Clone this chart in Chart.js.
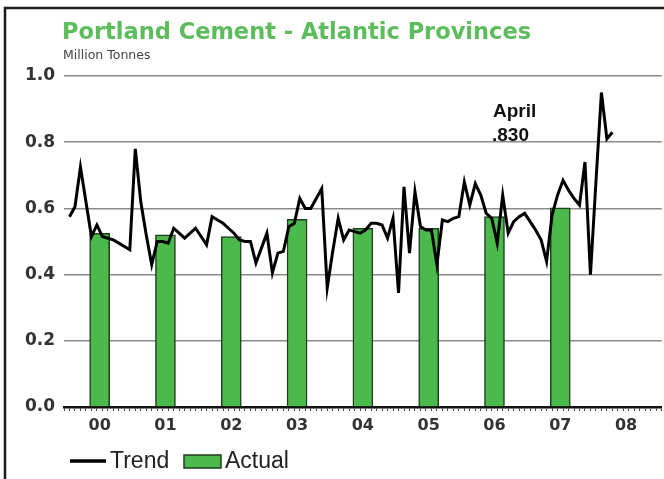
<!DOCTYPE html>
<html>
<head>
<meta charset="utf-8">
<script src="https://cdn.jsdelivr.net/npm/chart.js@4.4.1/dist/chart.umd.min.js"></script>
<style>
  html, body { margin: 0; padding: 0; background: #fff; }
  canvas { display: block; }
</style>
</head>
<body>
<canvas id="c" width="664" height="479"></canvas>
<script>
// ---- Data ----
const yearLabels = ['00', '01', '02', '03', '04', '05', '06', '07', '08'];

// Annual "Actual" bars, 2000-2007 (million tonnes)
const actualValues = [0.525, 0.52, 0.515, 0.567, 0.54, 0.54, 0.575, 0.602];

// Monthly "Trend" series, Jan 2000 - Apr 2008
const trend2000 = [0.575, 0.605, 0.725, 0.62, 0.515, 0.55, 0.515, 0.51, 0.505, 0.495, 0.485, 0.475];
const trend2001 = [0.78, 0.62, 0.52, 0.43, 0.50, 0.50, 0.495, 0.54, 0.525, 0.51, 0.525, 0.54];
const trend2002 = [0.515, 0.49, 0.575, 0.565, 0.555, 0.54, 0.525, 0.505, 0.50, 0.50, 0.435, 0.48];
const trend2003 = [0.525, 0.405, 0.465, 0.47, 0.545, 0.555, 0.63, 0.60, 0.60, 0.63, 0.66, 0.36];
const trend2004 = [0.47, 0.57, 0.505, 0.535, 0.53, 0.525, 0.535, 0.555, 0.555, 0.55, 0.51, 0.57];
const trend2005 = [0.345, 0.665, 0.465, 0.65, 0.545, 0.535, 0.535, 0.43, 0.565, 0.56, 0.57, 0.575];
const trend2006 = [0.68, 0.61, 0.675, 0.64, 0.585, 0.57, 0.495, 0.64, 0.525, 0.56, 0.575, 0.585];
const trend2007 = [0.56, 0.535, 0.505, 0.44, 0.58, 0.64, 0.685, 0.655, 0.63, 0.61, 0.74, 0.40];
const trend2008 = [0.68, 0.95, 0.81, 0.83];

const titleText = 'Portland Cement - Atlantic Provinces';
const subtitleText = 'Million Tonnes';
const noteLines = ['April', '.830'];
const legendLabels = ['Trend', 'Actual'];

// ---- Build datasets ----
const trendValues = [].concat(trend2000, trend2001, trend2002, trend2003, trend2004,
                              trend2005, trend2006, trend2007, trend2008);
const trendPoints = trendValues.map((v, i) => ({ x: i + 0.5, y: v }));
const actualPoints = actualValues.map((v, i) => ({ x: i * 12 + 6, y: v }));

const GREEN = '#4cb94c';
const TITLE_GREEN = '#5dbd5d';

const decorPlugin = {
  id: 'decor',
  beforeDraw(chart) {
    const ctx = chart.ctx;
    ctx.save();
    ctx.fillStyle = '#ffffff';
    ctx.fillRect(0, 0, chart.width, chart.height);
    ctx.restore();
  },
  afterDraw(chart) {
    const ctx = chart.ctx;
    ctx.save();
    // frame
    ctx.strokeStyle = '#1a1a1a';
    ctx.lineWidth = 2.5;
    ctx.strokeRect(5, 8, 700, 520);

    // title
    ctx.fillStyle = TITLE_GREEN;
    ctx.font = 'bold 22.5px "DejaVu Sans"';
    ctx.textBaseline = 'alphabetic';
    ctx.textAlign = 'left';
    ctx.fillText(titleText, 62, 39);

    // subtitle
    ctx.fillStyle = '#444';
    ctx.font = '12.5px "DejaVu Sans"';
    ctx.fillText(subtitleText, 63, 59);

    // annotation
    ctx.fillStyle = '#111';
    ctx.font = 'bold 19px "Liberation Sans", Arial';
    ctx.fillText(noteLines[0], 493, 117);
    ctx.fillText(noteLines[1], 492, 141);

    // legend
    const trendDs = chart.data.datasets[0];
    const barDs = chart.data.datasets[1];
    const ly = 461;
    ctx.strokeStyle = trendDs.borderColor;
    ctx.lineWidth = 3.5;
    ctx.beginPath();
    ctx.moveTo(70, ly);
    ctx.lineTo(106, ly);
    ctx.stroke();
    ctx.fillStyle = '#222';
    ctx.font = '23px "Liberation Sans", Arial';
    ctx.textBaseline = 'middle';
    ctx.fillText(legendLabels[0], 110, ly + 1);
    ctx.fillStyle = barDs.backgroundColor;
    ctx.fillRect(184, 455, 37, 13);
    ctx.strokeStyle = barDs.borderColor;
    ctx.lineWidth = 1.5;
    ctx.strokeRect(184, 455, 37, 13);
    ctx.fillStyle = '#222';
    ctx.fillText(legendLabels[1], 225, ly + 1);
    ctx.restore();
  }
};

new Chart(document.getElementById('c'), {
  data: {
    datasets: [
      {
        type: 'line',
        label: 'Trend',
        data: trendPoints,
        borderColor: '#000000',
        borderWidth: 3,
        pointRadius: 0,
        tension: 0,
        order: 0
      },
      {
        type: 'bar',
        label: 'Actual',
        data: actualPoints,
        backgroundColor: GREEN,
        borderColor: '#1d3d1d',
        borderWidth: 1.5,
        barThickness: 20,
        order: 1
      }
    ]
  },
  options: {
    responsive: false,
    animation: false,
    devicePixelRatio: 1,
    layout: { padding: { top: 76, right: 0, bottom: 0, left: 0 } },
    plugins: {
      legend: { display: false },
      title: { display: false },
      tooltip: { enabled: false }
    },
    scales: {
      x: {
        type: 'linear',
        min: 0,
        max: 108,
        afterFit(scale) { scale.height = 72; },
        ticks: {
          stepSize: 1,
          autoSkip: false,
          maxRotation: 0,
          minRotation: 0,
          padding: 5,
          color: '#333',
          font: { family: '"DejaVu Sans"', weight: 'bold', size: 16 },
          callback(v) {
            const r = v % 12;
            return r === 6 ? yearLabels[(v - 6) / 12] : '';
          }
        },
        grid: {
          display: true,
          drawOnChartArea: false,
          drawTicks: true,
          tickLength: 4,
          color: '#444',
          lineWidth: 1
        },
        border: { display: true, color: '#111', width: 2.5 }
      },
      y: {
        min: 0,
        max: 1,
        afterFit(scale) { scale.width = 64; },
        ticks: {
          stepSize: 0.2,
          padding: 9,
          color: '#333',
          font: { family: '"DejaVu Sans"', weight: 'bold', size: 17 },
          callback(v) { return v.toFixed(1); }
        },
        grid: {
          color: '#8a8a8a',
          lineWidth: 1.5,
          drawTicks: false
        },
        border: { display: false }
      }
    }
  },
  plugins: [decorPlugin]
});
</script>
</body>
</html>
